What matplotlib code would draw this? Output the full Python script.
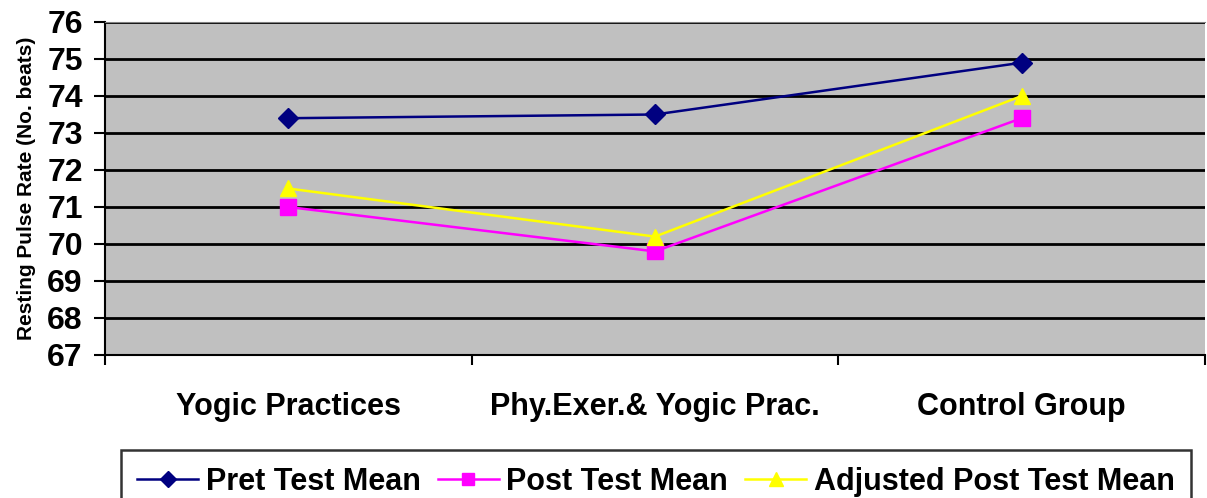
import numpy as np
import matplotlib.pyplot as plt

# Valores
grupos = ['Yogic Practices', 'Phy.Exer.& Yogic Prac.', 'Control Group']
pret_media = [73.4, 73.5, 74.9]
post_media = [71.0, 69.8, 73.4]
post_ajustada = [71.5, 70.2, 74.0]
ticks_y = list(range(67, 77))

plt.rcParams['font.family'] = ['Liberation Sans', 'DejaVu Sans']
plt.rcParams['font.weight'] = 'bold'

fig = plt.figure(figsize=(12.07, 4.98), dpi=100)
ax = fig.add_axes([105 / 1207, 1 - 355 / 498, 1100 / 1207, 333 / 498])
ax.set_facecolor('#c0c0c0')

x = np.arange(len(grupos))
ax.plot(x, pret_media, color='#000080', marker='D', markersize=10, lw=1.8,
        label='Pret Test Mean', zorder=3)
ax.plot(x, post_media, color='#ff00ff', marker='s', markersize=11, lw=1.8,
        label='Post Test Mean', zorder=3)
ax.plot(x, post_ajustada, color='#ffff00', marker='^', markersize=12, lw=1.8,
        label='Adjusted Post Test Mean', zorder=3)

ax.set_xlim(-0.5, len(grupos) - 0.5)
ax.set_ylim(67, 76)
ax.set_yticks(ticks_y)
ax.set_yticklabels([str(t) for t in ticks_y], fontsize=23, fontweight='bold')
ax.yaxis.grid(True, color='black', lw=2)
ax.set_axisbelow(True)

# Ticks del eje x en los límites de categoría, etiquetas centradas
ax.set_xticks(np.arange(len(grupos) + 1) - 0.5)
ax.set_xticklabels([])
ax.set_xticks(x, minor=True)
ax.set_xticklabels(grupos, minor=True, fontsize=22, fontweight='bold')
ax.tick_params(axis='x', which='minor', length=0, pad=27)
ax.tick_params(axis='x', which='major', length=7, width=1.5)
ax.tick_params(axis='y', length=8, width=1.5, pad=8)

ax.spines['left'].set_linewidth(1.5)
ax.spines['bottom'].set_linewidth(1.5)
ax.spines['top'].set_color('#808080')
ax.spines['right'].set_visible(False)

ax.set_ylabel('Resting Pulse Rate (No. beats)', fontsize=15, fontweight='bold',
              labelpad=8)

leg = fig.legend(loc='upper center', bbox_to_anchor=(656 / 1207, 1 - 450 / 498),
                 ncol=3, frameon=True, fancybox=False, fontsize=22,
                 handlelength=2.0, columnspacing=0.55, handletextpad=0.25,
                 borderpad=0.55, borderaxespad=0, markerscale=0.85)
leg.get_frame().set_edgecolor('black')
leg.get_frame().set_linewidth(1.8)
for t in leg.get_texts():
    t.set_fontweight('bold')

fig.savefig('out.png', dpi=100)
